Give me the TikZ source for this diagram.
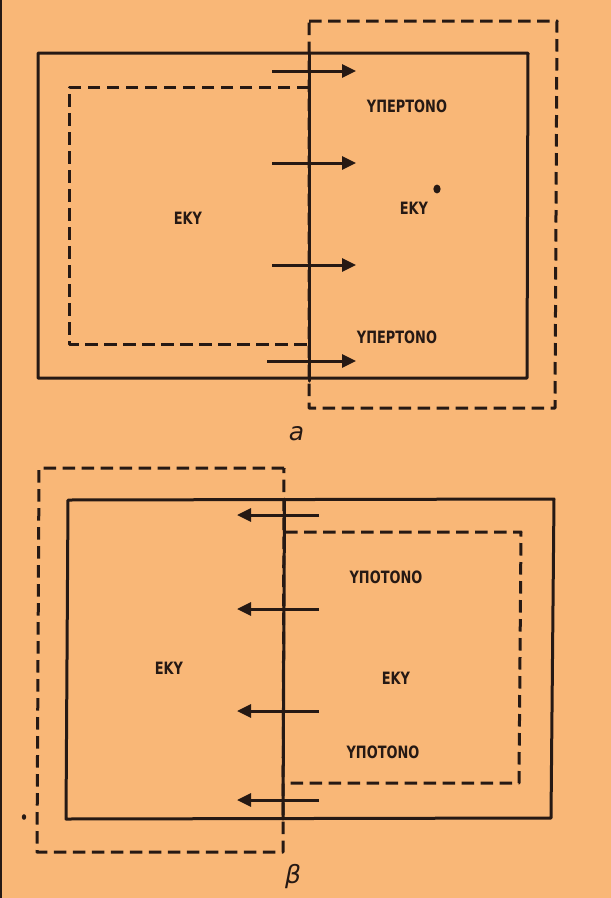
\documentclass[tikz,border=0pt]{standalone}
\usepackage{fontspec}
\usetikzlibrary{arrows.meta}
\newfontfamily\lblfont[FakeStretch=0.76]{DejaVu Sans}
\newfontfamily\capfont{DejaVu Sans}
\definecolor{bgorange}{RGB}{249,183,119}
\definecolor{ink}{RGB}{38,25,20}
\tikzset{
  solidline/.style={draw=ink, line width=3pt, line cap=round, line join=round},
  dashline/.style={draw=ink, line width=3pt, dash pattern=on 12.5pt off 6.5pt, line join=round},
  flowarrow/.style={draw=ink, line width=3pt, -{Triangle[length=14pt,width=13pt]}},
  lbl/.style={inner sep=0pt, text=ink, font=\lblfont\bfseries\fontsize{17}{17}\selectfont},
  partlbl/.style={inner sep=0pt, anchor=base, text=ink, font=\capfont\itshape\fontsize{25}{25}\selectfont}
}
\begin{document}
\begin{tikzpicture}[x=1pt,y=-1pt]
\fill[bgorange] (0,0) rectangle (611,898);
\useasboundingbox (0,0) rectangle (611,898);
\fill[ink] (0,0) rectangle (2,898);

% ---------- part a ----------
\draw[dashline] (309,21) -- (557,21) -- (555,408) -- (309,408) -- cycle;
\draw[dashline] (309,87) -- (69,87) -- (69,344) -- (309,344);
\draw[solidline] (38,53) -- (528,53) -- (527,378) -- (38,378) -- cycle;
\coordinate (vtopA) at (309,53);
\coordinate (vbotA) at (309,381);
\draw[solidline] (vtopA) -- (vbotA);

\foreach \i/\y/\xs in {1/71/272, 2/163/272, 3/265/272, 4/361/267}{
  \coordinate (aS\i) at (\xs,\y);
  \coordinate (aE\i) at (356,\y);
  \draw[flowarrow] (aS\i) -- (aE\i);
}

\node[lbl] (hyper1) at (407,106) {ΥΠΕΡΤΟΝΟ};
\node[lbl] (ekyA1) at (188,218) {ΕΚΥ};
\node[lbl] (ekyA2) at (414,208) {ΕΚΥ};
\fill[ink] (437,189) ellipse (3.6pt and 4.4pt);
\node[lbl] (hyper2) at (397,337) {ΥΠΕΡΤΟΝΟ};
\node[partlbl] (capA) at (296.5,440) {a};

% ---------- part b ----------
\draw[dashline] (284,468) -- (39,468) -- (37,852) -- (283,852) -- cycle;
\draw[dashline] (285,532) -- (521,532) -- (519,783) -- (284,783);
\draw[solidline] (68,500) -- (554,499) -- (551,818) -- (66,819) -- cycle;
\coordinate (vtopB) at (284.5,499);
\coordinate (vbotB) at (283,819);
\draw[solidline] (vtopB) -- (vbotB);

\foreach \i/\y in {1/515, 2/609, 3/711, 4/800}{
  \coordinate (bS\i) at (319,\y);
  \coordinate (bE\i) at (237,\y);
  \draw[flowarrow] (bS\i) -- (bE\i);
}

\node[lbl] (hypo1) at (386,577) {ΥΠΟΤΟΝΟ};
\node[lbl] (ekyB1) at (169,668) {ΕΚΥ};
\node[lbl] (ekyB2) at (396,678) {ΕΚΥ};
\node[lbl] (hypo2) at (383,752) {ΥΠΟΤΟΝΟ};
\fill[ink] (24,817) ellipse (2.2pt and 2.8pt);
\node[partlbl] (capB) at (293,883) {β};
\end{tikzpicture}
\end{document}
